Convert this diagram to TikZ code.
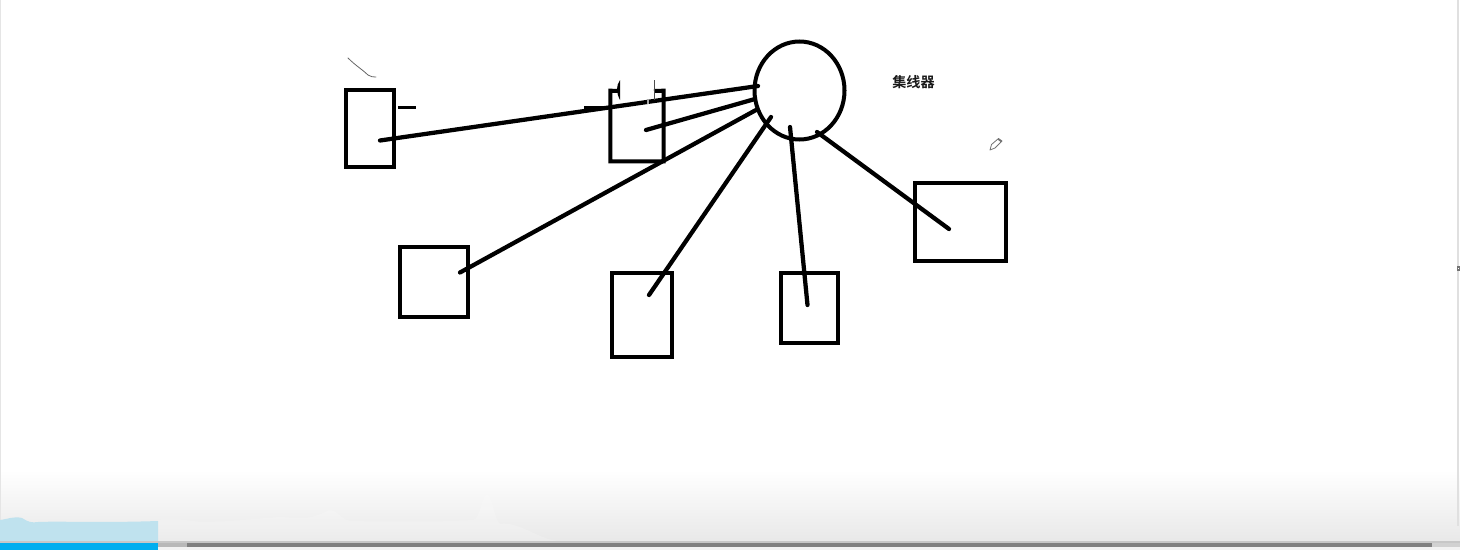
\documentclass[tikz,border=0pt]{standalone}
\usepackage{fontspec}
\newfontfamily\cjkfont{Noto Sans CJK SC}[BoldFont={Noto Sans CJK SC Bold}]
\usetikzlibrary{shapes.geometric}
\definecolor{barblue}{HTML}{00AEEF}
\definecolor{paleblue}{HTML}{BFE2EE}
\tikzset{
  box/.style={draw=black,line width=3pt,rectangle,inner sep=0pt,outer sep=0pt},
  openbox/.style={rectangle,inner sep=0pt,outer sep=0pt},
  hubshape/.style={draw=black,line width=3pt,ellipse,inner sep=0pt,outer sep=0pt,minimum width=67.5pt,minimum height=73.5pt},
  wire/.style={draw=black,line width=3.2pt,line cap=round},
  tick/.style={draw=black,line width=2.9pt},
  scribble/.style={draw=black!60,line width=0.6pt,line cap=round},
}
\begin{document}
\begin{tikzpicture}[x=0.75pt,y=-0.75pt]
\useasboundingbox (0,0) rectangle (1460,550);
% window surface
\fill[white] (0,0) rectangle (1460,550);
\shade[top color=white,bottom color=black!9] (0,470) rectangle (1460,542);
\fill[white,opacity=0.18] (158,520) .. controls (180,518) and (190,521) .. (200,522)
  .. controls (230,522) and (250,519) .. (280,517) .. controls (300,518) and (310,520) .. (325,512)
  .. controls (335,505) and (340,520) .. (350,521) .. controls (400,522) and (440,522) .. (473,520)
  .. controls (480,520) and (482,495) .. (487,495) .. controls (492,495) and (495,522) .. (500,524)
  .. controls (520,521) and (540,541) .. (560,541) -- (158,541) -- cycle;
\fill[black!10] (0,0) rectangle (1.2,541);
\fill[black!12] (1456.5,0) rectangle (1458.5,526);
\fill[black!55] (1456.5,266) rectangle (1460,270.5);
\fill[white] (1457.5,267.5) rectangle (1459,269);
\fill[paleblue] (0,520) .. controls (8,519) and (14,516) .. (22,518)
  .. controls (28,522) and (32,523) .. (38,522) .. controls (60,521) and (100,523) .. (158,521)
  -- (158,541) -- (0,541) -- cycle;
\fill[black!22] (0,541) rectangle (1460,542.5);
\fill[black!8] (0,542.5) rectangle (1460,550);
\fill[black!28] (158,542.5) rectangle (187,547);
\fill[black!50] (187,543) rectangle (1432,547);
\fill[black!18] (1432,543) rectangle (1460,547);
\fill[black!5] (158,547) rectangle (1460,550);
\fill[barblue] (0,543) rectangle (158,550);
% hub and boxes
\node[hubshape] (hub) at (799.5,90.5) {};
\node[box,minimum width=36pt,minimum height=58pt] (a) at (369.5,128.5) {};
\node[openbox,minimum width=40pt,minimum height=53pt] (b) at (637,126) {};
\node[box,minimum width=51pt,minimum height=53pt] (c) at (433.5,282) {};
\node[box,minimum width=44.5pt,minimum height=62.5pt] (d) at (642,315) {};
\node[box,minimum width=43pt,minimum height=53pt] (e) at (809.5,308) {};
\node[box,minimum width=68pt,minimum height=58.5pt] (f) at (960.5,221.5) {};
\node[font=\cjkfont\bfseries\fontsize{10.6pt}{12pt}\selectfont,text=black!90,inner sep=0pt] (label) at (913.5,82) {集线器};
% box b: its top edge is broken
\draw[line width=3pt,line join=miter]
  (619,91) -- (b.north west) -- (b.south west) -- (b.south east) -- (b.north east) -- (654,91);
% wire ends
\coordinate (a1) at (380,140.5); \coordinate (h1) at (758,86);
\coordinate (b1) at (646,130); \coordinate (h2) at (755,99);
\coordinate (c1) at (460,272.5); \coordinate (h3) at (756,110);
\coordinate (d1) at (649,295); \coordinate (h4) at (771,117);
\coordinate (e1) at (807.5,305); \coordinate (h5) at (790,127);
\coordinate (f1) at (949,229); \coordinate (h6) at (817,132);
\draw[wire] (a1) -- (h1);
\draw[wire] (b1) -- (h2);
\draw[wire] (c1) -- (h3);
\draw[wire] (d1) -- (h4);
\draw[wire] (e1) -- (h5);
\draw[wire] (f1) -- (h6);
% short marks
\coordinate (t1) at (398,107.5); \coordinate (t2) at (416,107.5);
\coordinate (t3) at (584,107.5); \coordinate (t4) at (610,107.5);
\draw[tick] (t1) -- (t2);
\draw[tick] (t3) -- (t4);
\fill[black] (620,80) .. controls (616,86) and (616,92) .. (620,100) -- cycle;
\draw[black!70,line width=0.7pt] (654,80) -- (654,100);
\draw[black!35,line width=1.4pt] (648,99) -- (648,104);
\draw[scribble] (348,58) .. controls (356,66) and (363,70) .. (368,75) .. controls (371,77) and (373,77) .. (376,77);
% pencil cursor
\draw[black!55,line width=0.6pt,fill=white,line join=round]
  (990,150) -- (991.5,144.5) -- (998.5,138.5) -- (1002,141) -- (995,148) -- cycle;
\fill[black!55] (997.5,139.5) -- (998.5,138.5) -- (1002,141) -- (1001,142.2) -- cycle;
\end{tikzpicture}
\end{document}
